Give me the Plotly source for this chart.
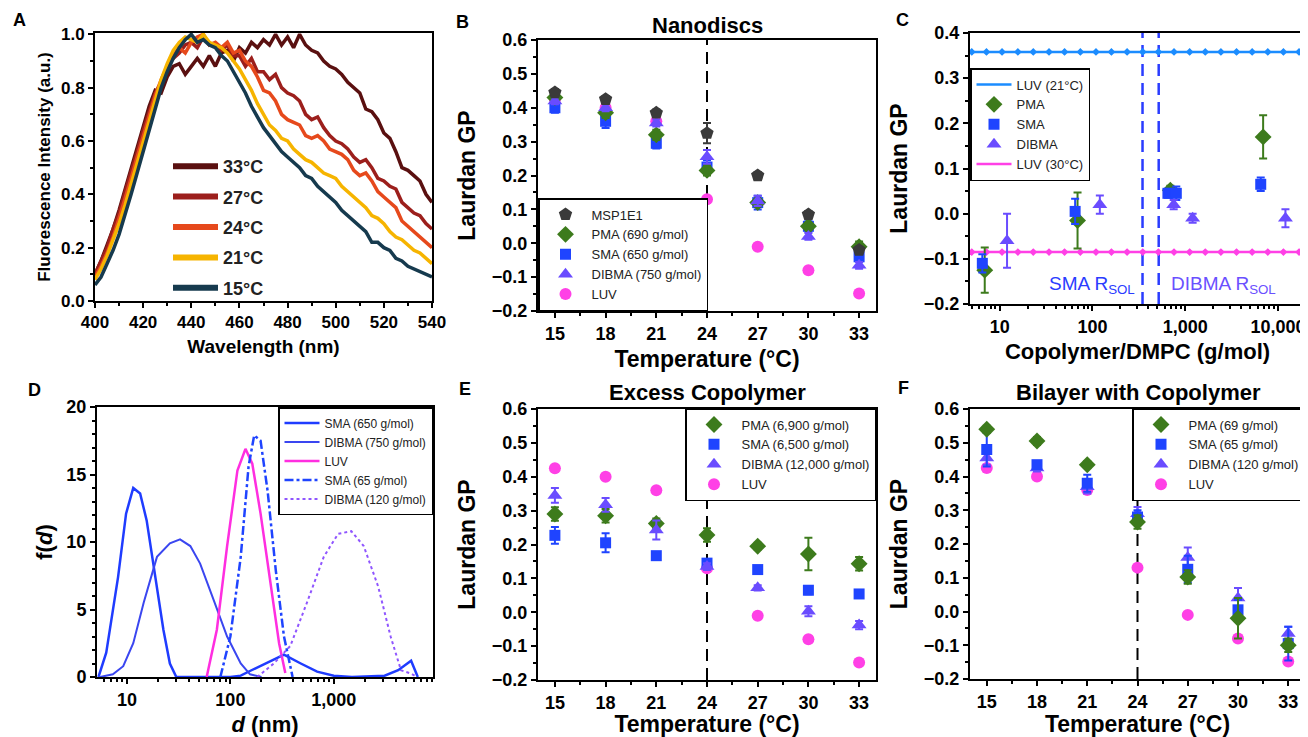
import plotly.graph_objects as go

# page places the figure 8px from the top-left corner; the figure is sized to fill the rest
OX, OY = 8, 8
FW, FH = 1300, 729
FONT = "Liberation Sans, Arial, sans-serif"

# ---------------- Panel A: Laurdan spectra ----------------
wavelength = [400.0, 402.5, 405.0, 407.5, 410.0, 412.5, 415.0, 417.5, 420.0, 422.5,
              425.0, 427.5, 430.0, 432.5, 435.0, 437.5, 440.0, 442.5, 445.0, 447.5,
              450.0, 452.5, 455.0, 457.5, 460.0, 462.5, 465.0, 467.5, 470.0, 472.5,
              475.0, 477.5, 480.0, 482.5, 485.0, 487.5, 490.0, 492.5, 495.0, 497.5,
              500.0, 502.5, 505.0, 507.5, 510.0, 512.5, 515.0, 517.5, 520.0, 522.5,
              525.0, 527.5, 530.0, 532.5, 535.0, 537.5, 540.0]
spec_33 = [.10, .15, .21, .27, .34, .42, .50, .57, .65, .73,
           .79, .78, .84, .88, .89, .85, .88, .91, .88, .92,
           .88, .93, .94, .90, .95, .93, .97, .95, .98, .96,
           1.00, .96, .99, .95, 1.00, .96, .94, .93, .90, .88,
           .87, .85, .82, .80, .78, .72, .71, .68, .63, .61,
           .56, .50, .49, .47, .45, .40, .37]
spec_27 = [.10, .15, .20, .27, .33, .41, .48, .56, .64, .71,
           .78, .82, .88, .91, .93, .96, .97, .95, .99, .96,
           .96, .94, .96, .92, .92, .88, .91, .86, .86, .83,
           .85, .80, .78, .77, .75, .70, .68, .69, .65, .62,
           .60, .59, .57, .54, .52, .53, .50, .46, .45, .43,
           .42, .37, .35, .33, .32, .29, .27]
spec_24 = [.09, .13, .18, .24, .31, .38, .46, .54, .62, .70,
           .77, .83, .88, .92, .95, .93, .97, .99, 1.00, .96,
           .97, .95, .97, .93, .94, .90, .88, .84, .79, .78,
           .75, .70, .68, .67, .66, .62, .61, .62, .60, .57,
           .56, .55, .53, .49, .47, .48, .45, .41, .39, .37,
           .35, .30, .28, .26, .24, .22, .20]
spec_21 = [.08, .12, .17, .23, .29, .36, .44, .52, .60, .68,
           .76, .83, .89, .94, .97, .99, .98, .97, 1.00, .97,
           .96, .95, .93, .90, .87, .83, .79, .74, .70, .66,
           .64, .61, .60, .57, .55, .53, .52, .50, .48, .47,
           .46, .43, .41, .39, .37, .35, .32, .31, .29, .26,
           .24, .23, .21, .19, .18, .16, .14]
spec_15 = [.06, .09, .14, .19, .25, .32, .40, .48, .56, .64,
           .72, .80, .86, .91, .95, .98, 1.00, .97, .98, .96,
           .95, .92, .90, .86, .82, .78, .73, .69, .65, .62,
           .59, .56, .54, .52, .50, .47, .46, .43, .41, .39,
           .37, .34, .32, .30, .28, .26, .22, .22, .20, .19,
           .16, .15, .13, .12, .11, .10, .09]
spec_labels = ["33°C", "27°C", "24°C", "21°C", "15°C"]
spec_colors = ["#5a1010", "#9c1f1c", "#e6491c", "#f6b400", "#163a4e"]

# ---------------- Panels B, E, F: GP vs temperature ----------------
temps = [15, 18, 21, 24, 27, 30, 33]
luv_gp = [0.425, 0.400, 0.360, 0.130, -0.010, -0.080, -0.148]
luv_err = [0.005, 0.005, 0.005, 0.005, 0.005, 0.005, 0.005]

B_msp = [0.445, 0.425, 0.385, 0.325, 0.200, 0.085, -0.020]
B_msp_err = [0.01, 0.01, 0.01, 0.03, 0.01, 0.01, 0.01]
B_pma = [0.430, 0.385, 0.320, 0.215, 0.120, 0.050, -0.010]
B_pma_err = [0.01, 0.015, 0.015, 0.015, 0.01, 0.01, 0.015]
B_sma = [0.400, 0.360, 0.295, 0.225, 0.120, 0.050, -0.040]
B_sma_err = [0.015, 0.02, 0.015, 0.02, 0.02, 0.015, 0.01]
B_dibma = [0.420, 0.400, 0.355, 0.255, 0.125, 0.020, -0.065]
B_dibma_err = [0.01, 0.01, 0.01, 0.02, 0.015, 0.01, 0.01]

E_pma = [0.290, 0.285, 0.262, 0.228, 0.195, 0.172, 0.143]
E_pma_err = [0.02, 0.02, 0.015, 0.02, 0.01, 0.048, 0.02]
E_sma = [0.227, 0.205, 0.167, 0.145, 0.126, 0.065, 0.054]
E_sma_err = [0.025, 0.028, 0.008, 0.01, 0.008, 0.012, 0.01]
E_dibma = [0.345, 0.317, 0.243, 0.135, 0.072, 0.003, -0.038]
E_dibma_err = [0.022, 0.02, 0.028, 0.01, 0.008, 0.015, 0.012]

F_pma = [0.540, 0.505, 0.435, 0.265, 0.102, -0.020, -0.100]
F_pma_err = [0.01, 0.012, 0.01, 0.02, 0.02, 0.06, 0.02]
F_sma = [0.480, 0.435, 0.380, 0.280, 0.125, 0.005, -0.095]
F_sma_err = [0.05, 0.01, 0.025, 0.02, 0.04, 0.03, 0.05]
F_dibma = [0.455, 0.425, 0.370, 0.290, 0.160, 0.040, -0.065]
F_dibma_err = [0.02, 0.01, 0.02, 0.02, 0.03, 0.03, 0.02]

# ---------------- Panel C: GP vs copolymer/DMPC ----------------
C_pma_x = [6.9, 69, 690, 6900]
C_pma_y = [-0.125, -0.015, 0.052, 0.170]
C_pma_err = [0.05, 0.062, 0.01, 0.048]
C_sma_x = [6.5, 65, 650, 800, 6500]
C_sma_y = [-0.110, 0.005, 0.045, 0.045, 0.065]
C_sma_err = [0.02, 0.028, 0.01, 0.015, 0.015]
C_dibma_x = [12, 120, 750, 1200, 12000]
C_dibma_y = [-0.060, 0.020, 0.020, -0.010, -0.010]
C_dibma_err = [0.06, 0.02, 0.01, 0.01, 0.02]
C_ref_x = [5.0, 7.2, 10.6, 15.7, 23, 34, 50, 74, 109, 160, 236, 348, 513, 756,
           1114, 1642, 2420, 3566, 5255, 7745, 11414, 16820]
luv21_gp = 0.358
luv30_gp = -0.085
sma_rsol = 346
dibma_rsol = 517

# ---------------- Panel D: size distributions ----------------
D_sma650_x = [5.3, 6.3, 8.2, 9.8, 11.5, 13.4, 15.5, 18.7, 22.5, 26, 30, 100, 126, 160, 229, 330, 480,
              690, 1000, 1500, 3100, 4200, 5600, 6500]
D_sma650_y = [0, 1.8, 7.4, 12.1, 14.0, 13.6, 11.6, 7.4, 3.5, 1.0, 0, 0, 0.1, 0.5, 1.1, 1.65, 1.0,
              0.4, 0.1, 0, 0.1, 0.5, 1.2, 0]
D_dibma750_x = [5.5, 7.3, 9.2, 11.5, 14.5, 19.5, 26, 32.6, 41, 51, 69, 93, 126, 155, 200]
D_dibma750_y = [0, 0.2, 0.8, 2.5, 5.5, 8.9, 9.9, 10.2, 9.7, 8.4, 5.7, 3.0, 1.0, 0.2, 0]
D_luv_x = [59, 74, 93, 117, 140, 163, 196, 245, 296, 340]
D_luv_y = [0, 3.5, 9.7, 15.3, 16.9, 15.8, 12.1, 6.7, 2.5, 0.3]
D_sma65_x = [80, 100, 126, 150, 170, 196, 229, 275, 330, 400]
D_sma65_y = [0, 3.0, 8.9, 15.6, 17.9, 17.5, 13.8, 7.9, 3.0, 0]
D_dibma120_x = [182, 263, 380, 550, 800, 1100, 1480, 1950, 2690, 3550, 4470, 5600, 6400]
D_dibma120_y = [0, 1.0, 2.3, 5.5, 8.9, 10.6, 10.8, 9.7, 6.7, 3.0, 0.5, 0.25, 0]

# ---------------- colours ----------------
C_MSP = "#3a3a3a"
C_PMA = "#3d7b1c"
C_SMA = "#1f44ff"
C_DIBMA = "#6a4cff"
C_LUV = "#ff40e6"
C_LUV21 = "#1b8cff"


def px(x):
    return (x - OX) / FW


def py(y):
    return 1 - (y - OY) / FH


def dx(a, b):
    return [px(a), px(b)]


def dy(top, bottom):
    return [py(bottom), py(top)]


def axis(domain, anchor, title, tsize, ticksize, standoff, **kw):
    d = dict(domain=domain, anchor=anchor, showline=True, linewidth=2, linecolor="black",
             mirror=True, ticks="outside", ticklen=5, tickwidth=2, tickcolor="black",
             showgrid=False, zeroline=False, automargin=False,
             tickfont=dict(family=FONT, size=ticksize, color="black", weight="bold"),
             title=dict(text=title, standoff=standoff,
                        font=dict(family=FONT, size=tsize, color="black", weight="bold")))
    d.update(kw)
    return d


fig = go.Figure()

# ----- A -----
for lab, col, ys in zip(spec_labels, spec_colors, [spec_33, spec_27, spec_24, spec_21, spec_15]):
    fig.add_trace(go.Scatter(x=wavelength, y=ys, mode="lines", name=lab, showlegend=False,
                             line=dict(color=col, width=3.5), xaxis="x", yaxis="y"))
for lab, col in zip(spec_labels, spec_colors):
    # legend-only entries with the thick sample lines of the reference legend
    fig.add_trace(go.Scatter(x=[None], y=[None], mode="lines", name=lab,
                             line=dict(color=col, width=6), xaxis="x", yaxis="y",
                             legend="legend", legendgroup=lab))


def gp_traces(xa, ya, leg, series):
    for name, ys, err, sym, col, size, rank in series:
        fig.add_trace(go.Scatter(
            x=temps, y=ys, mode="markers", name=name, xaxis=xa, yaxis=ya, legend=leg,
            legendrank=rank,
            marker=dict(symbol=sym, color=col, size=size, line=dict(width=0)),
            error_y=dict(type="data", array=err, color=col, thickness=2, width=4)))


# ----- B -----
gp_traces("x2", "y2", "legend2", [
    ("LUV", luv_gp, luv_err, "circle", C_LUV, 12, 5),
    ("SMA (650 g/mol)", B_sma, B_sma_err, "square", C_SMA, 11, 3),
    ("PMA (690 g/mol)", B_pma, B_pma_err, "diamond", C_PMA, 13, 2),
    ("DIBMA (750 g/mol)", B_dibma, B_dibma_err, "triangle-up", C_DIBMA, 13, 4),
    ("MSP1E1", B_msp, B_msp_err, "pentagon", C_MSP, 14, 1),
])

# ----- C -----
fig.add_trace(go.Scatter(x=C_ref_x, y=[luv21_gp] * len(C_ref_x), mode="lines", name="LUV (21°C)",
                         line=dict(color=C_LUV21, width=2.5), xaxis="x3", yaxis="y3",
                         legend="legend3", legendrank=1))
fig.add_trace(go.Scatter(x=C_ref_x, y=[luv21_gp] * len(C_ref_x), mode="markers", showlegend=False,
                         marker=dict(symbol="diamond", size=6, color=C_LUV21),
                         error_y=dict(type="constant", value=0.006, color=C_LUV21, thickness=1.5, width=0),
                         xaxis="x3", yaxis="y3"))
fig.add_trace(go.Scatter(x=C_ref_x, y=[luv30_gp] * len(C_ref_x), mode="lines", name="LUV (30°C)",
                         line=dict(color=C_LUV, width=2.5), xaxis="x3", yaxis="y3",
                         legend="legend3", legendrank=5))
fig.add_trace(go.Scatter(x=C_ref_x, y=[luv30_gp] * len(C_ref_x), mode="markers", showlegend=False,
                         marker=dict(symbol="diamond", size=6, color=C_LUV),
                         error_y=dict(type="constant", value=0.006, color=C_LUV, thickness=1.5, width=0),
                         xaxis="x3", yaxis="y3"))
for name, xs, ys, err, sym, col, size, rank in [
        ("PMA", C_pma_x, C_pma_y, C_pma_err, "diamond", C_PMA, 13, 2),
        ("SMA", C_sma_x, C_sma_y, C_sma_err, "square", C_SMA, 11, 3),
        ("DIBMA", C_dibma_x, C_dibma_y, C_dibma_err, "triangle-up", C_DIBMA, 13, 4)]:
    fig.add_trace(go.Scatter(x=xs, y=ys, mode="markers", name=name, xaxis="x3", yaxis="y3",
                             legend="legend3", legendrank=rank,
                             marker=dict(symbol=sym, color=col, size=size),
                             error_y=dict(type="data", array=err, color=col, thickness=2, width=4)))

# ----- D -----
for name, xs, ys, col, dash, wd in [
        ("SMA (650 g/mol)", D_sma650_x, D_sma650_y, "#1f3cff", "solid", 2.5),
        ("DIBMA (750 g/mol)", D_dibma750_x, D_dibma750_y, "#3a46f0", "solid", 2),
        ("LUV", D_luv_x, D_luv_y, "#ff2ee0", "solid", 2.5),
        ("SMA (65 g/mol)", D_sma65_x, D_sma65_y, "#1f44ff", "dashdot", 2.5),
        ("DIBMA (120 g/mol)", D_dibma120_x, D_dibma120_y, "#8f55ff", "dot", 2)]:
    fig.add_trace(go.Scatter(x=xs, y=ys, mode="lines", name=name, xaxis="x4", yaxis="y4",
                             legend="legend4", line=dict(color=col, dash=dash, width=wd)))

# ----- E -----
gp_traces("x5", "y5", "legend5", [
    ("LUV", luv_gp, luv_err, "circle", C_LUV, 12, 4),
    ("PMA (6,900 g/mol)", E_pma, E_pma_err, "diamond", C_PMA, 13, 1),
    ("SMA (6,500 g/mol)", E_sma, E_sma_err, "square", C_SMA, 11, 2),
    ("DIBMA (12,000 g/mol)", E_dibma, E_dibma_err, "triangle-up", C_DIBMA, 13, 3),
])

# ----- F -----
gp_traces("x6", "y6", "legend6", [
    ("LUV", luv_gp, luv_err, "circle", C_LUV, 12, 4),
    ("DIBMA (120 g/mol)", F_dibma, F_dibma_err, "triangle-up", C_DIBMA, 13, 3),
    ("SMA (65 g/mol)", F_sma, F_sma_err, "square", C_SMA, 11, 2),
    ("PMA (69 g/mol)", F_pma, F_pma_err, "diamond", C_PMA, 13, 1),
])

# ---------------- axes ----------------
tminor = dict(ticks="outside", ticklen=3, tickwidth=1.5, tickcolor="black", dtick=1.5)
gpminor = dict(ticks="outside", ticklen=3, tickwidth=1.5, tickcolor="black", dtick=0.05)
logminor = dict(ticks="outside", ticklen=3, tickwidth=1.5, tickcolor="black", dtick="D1")

layout_axes = dict(
    xaxis=axis(dx(95, 432), "y", "Wavelength (nm)", 19, 17, 8, range=[400, 540], dtick=20,
               minor=dict(ticks="outside", ticklen=3, tickwidth=1.5, tickcolor="black", dtick=10)),
    yaxis=axis(dy(33, 301), "x", "Fluorescence Intensity (a.u.)", 17, 17, 6, range=[0, 1.005],
               dtick=0.2, tickformat=".1f",
               minor=dict(ticks="outside", ticklen=3, tickwidth=1.5, tickcolor="black", dtick=0.1)),
    xaxis2=axis(dx(538, 876), "y2", "Temperature (°C)", 23, 18, 8, range=[14, 34],
                tickvals=temps, minor=tminor),
    yaxis2=axis(dy(40, 311), "x2", "Laurdan GP", 23, 18, 10, range=[-0.2, 0.6], dtick=0.1,
                tickformat=".1f", minor=gpminor),
    xaxis3=axis(dx(970, 1305), "y3", "Copolymer/DMPC (g/mol)", 22, 18, 8, type="log",
                range=[0.68, 4.29], tickvals=[10, 100, 1000, 10000],
                ticktext=["10", "100", "1,000", "10,000"], minor=logminor),
    yaxis3=axis(dy(33, 304), "x3", "Laurdan GP", 23, 18, 10, range=[-0.2, 0.4], dtick=0.1,
                tickformat=".1f", minor=gpminor),
    xaxis4=axis(dx(97, 433), "y4", "<i>d</i> (nm)", 22, 18, 8, type="log",
                range=[0.71, 3.96], tickvals=[10, 100, 1000],
                ticktext=["10", "100", "1,000"], minor=logminor),
    yaxis4=axis(dy(407, 677), "x4", "f(<i>d</i>)", 22, 18, 8, range=[0, 20], dtick=5,
                minor=dict(ticks="outside", ticklen=3, tickwidth=1.5, tickcolor="black", dtick=1)),
    xaxis5=axis(dx(538, 876), "y5", "Temperature (°C)", 23, 18, 8, range=[14, 34],
                tickvals=temps, minor=tminor),
    yaxis5=axis(dy(409, 680), "x5", "Laurdan GP", 23, 18, 10, range=[-0.2, 0.6], dtick=0.1,
                tickformat=".1f", minor=gpminor),
    xaxis6=axis(dx(970, 1305), "y6", "Temperature (°C)", 23, 18, 8, range=[14, 34],
                tickvals=temps, minor=tminor),
    yaxis6=axis(dy(409, 679), "x6", "Laurdan GP", 23, 18, 10, range=[-0.2, 0.6], dtick=0.1,
                tickformat=".1f", minor=gpminor),
)


def legend_box(x, y, xanchor, yanchor, size, border=True, **kw):
    d = dict(x=px(x), y=py(y), xanchor=xanchor, yanchor=yanchor, xref="paper", yref="paper",
             font=dict(family=FONT, size=size, color="#222222"),
             bgcolor="white" if border else "rgba(0,0,0,0)",
             bordercolor="black", borderwidth=1.5 if border else 0,
             tracegroupgap=0, itemwidth=35)
    d.update(kw)
    return d


fig.update_layout(
    width=FW, height=FH, margin=dict(l=0, r=0, t=0, b=0),
    paper_bgcolor="white", plot_bgcolor="white",
    showlegend=True,
    legend=legend_box(168, 148, "left", "top", 18, border=False, traceorder="grouped",
                      tracegroupgap=4, itemwidth=45,
                      font=dict(family=FONT, size=18, color="#222222", weight="bold")),
    legend2=legend_box(538, 311, "left", "bottom", 13, itemwidth=42),
    legend3=legend_box(970, 68, "left", "top", 13),
    legend4=legend_box(433, 407, "right", "top", 12),
    legend5=legend_box(876, 408, "right", "top", 13, itemwidth=45),
    legend6=legend_box(1305, 408, "right", "top", 13, itemwidth=45),
    **layout_axes,
)

# dashed reference lines
for xa, ya in [("x2", "y2"), ("x5", "y5"), ("x6", "y6")]:
    fig.add_shape(type="line", x0=24, x1=24, y0=0, y1=1, xref=xa, yref=ya + " domain",
                  line=dict(color="black", width=2, dash="12px,7px"), layer="below")
for xv in [sma_rsol, dibma_rsol]:
    fig.add_shape(type="line", x0=xv, x1=xv, y0=0, y1=1, xref="x3", yref="y3 domain",
                  line=dict(color="#2a3cff", width=2.5, dash="12px,7px"), layer="below")

# annotations: titles, letters, R_SOL text
ann = []
for txt, x, y, size in [("A", 19, 20, 18), ("B", 462, 22, 18), ("C", 902, 20, 18),
                        ("D", 34, 390, 18), ("E", 465, 389, 18), ("F", 903, 388, 18)]:
    ann.append(dict(text=txt, x=px(x), y=py(y), xref="paper", yref="paper", showarrow=False,
                    xanchor="center", yanchor="middle",
                    font=dict(family=FONT, size=size, color="black", weight="bold")))
for txt, x, y in [("Nanodiscs", 707, 25), ("Excess Copolymer", 707, 392),
                  ("Bilayer with Copolymer", 1138, 392)]:
    ann.append(dict(text=txt, x=px(x), y=py(y), xref="paper", yref="paper", showarrow=False,
                    xanchor="center", yanchor="middle",
                    font=dict(family=FONT, size=22, color="black", weight="bold")))
ann.append(dict(text="SMA R<sub>SOL</sub>", x=px(1092), y=py(285), xref="paper", yref="paper",
                xanchor="center", yanchor="middle",
                showarrow=False, font=dict(family=FONT, size=19, color="#2a3cff")))
ann.append(dict(text="DIBMA R<sub>SOL</sub>", x=px(1223), y=py(285), xref="paper", yref="paper",
                xanchor="center", yanchor="middle",
                showarrow=False, font=dict(family=FONT, size=19, color="#6a50ff")))
fig.update_layout(annotations=ann)

fig.write_html("out.html")
